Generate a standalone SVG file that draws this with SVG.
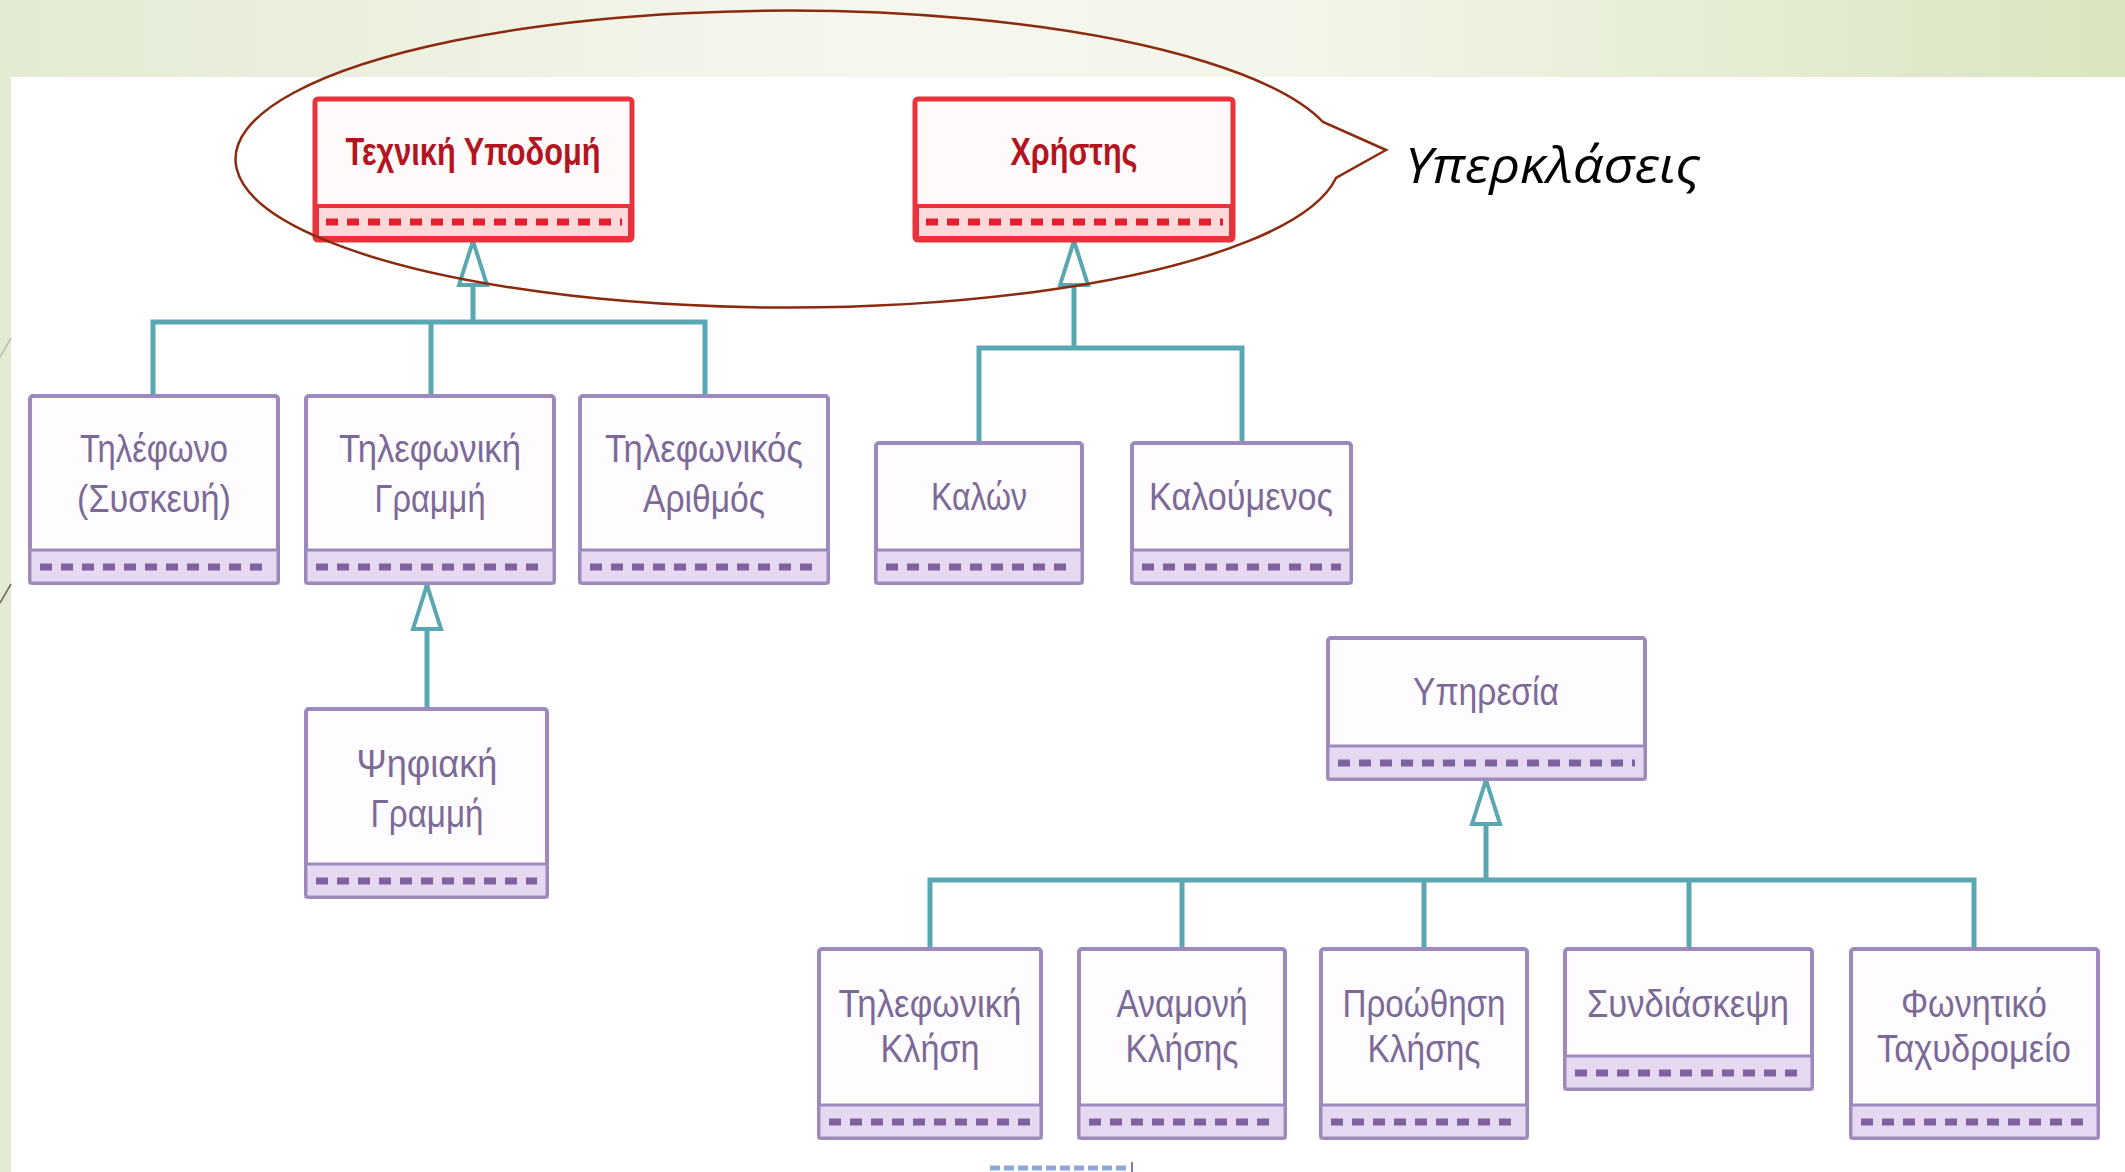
<svg xmlns="http://www.w3.org/2000/svg" width="2125" height="1172" viewBox="0 0 2125 1172">
<defs>
<linearGradient id="band" x1="0" y1="0" x2="1" y2="0">
<stop offset="0" stop-color="#e3ebd3"/>
<stop offset="0.42" stop-color="#f6f7ef"/>
<stop offset="0.6" stop-color="#f3f6ea"/>
<stop offset="1" stop-color="#d9e5c0"/>
</linearGradient>
<marker id="gen" viewBox="0 0 50 34" refX="48" refY="17" markerWidth="50" markerHeight="34" markerUnits="userSpaceOnUse" orient="auto">
<polygon points="3,3 47,17 3,31" fill="#ffffff" stroke="#5aa7b1" stroke-width="4" stroke-linejoin="miter"/>
</marker>
<style>
.box{fill:#fffcff;stroke:#9d89bc;stroke-width:4}
.strip{fill:#e7d8f1;stroke:#9d89bc;stroke-width:3}
.dash{stroke:#7e619f;stroke-width:7;stroke-dasharray:12 9}
.lbl{font-family:"Liberation Sans","Arial",sans-serif;font-size:38px;fill:#7b6a97;text-anchor:middle}
.red .box{fill:#fffafa;stroke:#e8323c;stroke-width:5}
.red .strip{fill:#ffd9d9;stroke:#e8323c;stroke-width:4}
.red .dash{stroke:#e21f2e}
.red .lbl{fill:#b3141f;font-weight:bold}
.conn{fill:none;stroke:#5aa7b1;stroke-width:5}
.callout{fill:none;stroke:#8b2a0e;stroke-width:2.5}
</style>
</defs>
<rect x="0" y="0" width="2125" height="1172" fill="#ffffff"/>
<rect x="0" y="0" width="2125" height="77" fill="url(#band)"/>
<rect x="0" y="77" width="11" height="1095" fill="#e3ebd3"/>
<line x1="0" y1="357" x2="11" y2="338" stroke="#b9bfae" stroke-width="1.5"/>
<line x1="0" y1="603" x2="11" y2="584" stroke="#6e6a55" stroke-width="1.5"/>

<g id="connectors">
<path class="conn" d="M153,396 V322 H705 V396 M431,322 V396"/>
<path class="conn" d="M473,322 V240" marker-end="url(#gen)"/>
<path class="conn" d="M979,443 V348 H1242 V443"/>
<path class="conn" d="M1074,348 V240" marker-end="url(#gen)"/>
<path class="conn" d="M427,709 V584" marker-end="url(#gen)"/>
<path class="conn" d="M930,949 V880 H1974 V949 M1182,880 V949 M1424,880 V949 M1689,880 V949"/>
<path class="conn" d="M1486,880 V779" marker-end="url(#gen)"/>
</g>

<g id="tech" class="red">
<rect class="box" x="315" y="99" width="317" height="141" rx="3"/>
<rect class="strip" x="317" y="206" width="313" height="32"/>
<line class="dash" x1="326" y1="222" x2="622" y2="222"/>
<text class="lbl" x="473" y="165" textLength="255" lengthAdjust="spacingAndGlyphs">Τεχνική Υποδομή</text>
</g>
<g id="user" class="red">
<rect class="box" x="915" y="99" width="318" height="141" rx="3"/>
<rect class="strip" x="917" y="206" width="314" height="32"/>
<line class="dash" x1="926" y1="222" x2="1223" y2="222"/>
<text class="lbl" x="1074" y="165" textLength="127" lengthAdjust="spacingAndGlyphs">Χρήστης</text>
</g>

<g id="phone">
<rect class="box" x="30" y="396" width="248" height="187" rx="3"/>
<rect class="strip" x="30" y="550" width="248" height="33"/>
<line class="dash" x1="40" y1="567" x2="268" y2="567"/>
<text class="lbl" x="154" y="462" textLength="148" lengthAdjust="spacingAndGlyphs">Τηλέφωνο</text>
<text class="lbl" x="154" y="512" textLength="154" lengthAdjust="spacingAndGlyphs">(Συσκευή)</text>
</g>
<g id="line">
<rect class="box" x="306" y="396" width="248" height="187" rx="3"/>
<rect class="strip" x="306" y="550" width="248" height="33"/>
<line class="dash" x1="316" y1="567" x2="544" y2="567"/>
<text class="lbl" x="430" y="462" textLength="182" lengthAdjust="spacingAndGlyphs">Τηλεφωνική</text>
<text class="lbl" x="430" y="512" textLength="111" lengthAdjust="spacingAndGlyphs">Γραμμή</text>
</g>
<g id="number">
<rect class="box" x="580" y="396" width="248" height="187" rx="3"/>
<rect class="strip" x="580" y="550" width="248" height="33"/>
<line class="dash" x1="590" y1="567" x2="818" y2="567"/>
<text class="lbl" x="704" y="462" textLength="198" lengthAdjust="spacingAndGlyphs">Τηλεφωνικός</text>
<text class="lbl" x="704" y="512" textLength="122" lengthAdjust="spacingAndGlyphs">Αριθμός</text>
</g>
<g id="caller">
<rect class="box" x="876" y="443" width="206" height="140" rx="3"/>
<rect class="strip" x="876" y="550" width="206" height="33"/>
<line class="dash" x1="886" y1="567" x2="1072" y2="567"/>
<text class="lbl" x="979" y="510" textLength="96" lengthAdjust="spacingAndGlyphs">Καλών</text>
</g>
<g id="callee">
<rect class="box" x="1132" y="443" width="219" height="140" rx="3"/>
<rect class="strip" x="1132" y="550" width="219" height="33"/>
<line class="dash" x1="1142" y1="567" x2="1341" y2="567"/>
<text class="lbl" x="1241" y="510" textLength="184" lengthAdjust="spacingAndGlyphs">Καλούμενος</text>
</g>
<g id="digital">
<rect class="box" x="306" y="709" width="241" height="188" rx="3"/>
<rect class="strip" x="306" y="864" width="241" height="33"/>
<line class="dash" x1="316" y1="881" x2="537" y2="881"/>
<text class="lbl" x="427" y="777" textLength="141" lengthAdjust="spacingAndGlyphs">Ψηφιακή</text>
<text class="lbl" x="427" y="827" textLength="113" lengthAdjust="spacingAndGlyphs">Γραμμή</text>
</g>
<g id="service">
<rect class="box" x="1328" y="638" width="317" height="141" rx="3"/>
<rect class="strip" x="1328" y="746" width="317" height="33"/>
<line class="dash" x1="1338" y1="763" x2="1635" y2="763"/>
<text class="lbl" x="1486" y="705" textLength="146" lengthAdjust="spacingAndGlyphs">Υπηρεσία</text>
</g>
<g id="call">
<rect class="box" x="819" y="949" width="222" height="189" rx="3"/>
<rect class="strip" x="819" y="1105" width="222" height="33"/>
<line class="dash" x1="829" y1="1122" x2="1031" y2="1122"/>
<text class="lbl" x="930" y="1017" textLength="183" lengthAdjust="spacingAndGlyphs">Τηλεφωνική</text>
<text class="lbl" x="930" y="1062" textLength="99" lengthAdjust="spacingAndGlyphs">Κλήση</text>
</g>
<g id="wait">
<rect class="box" x="1079" y="949" width="206" height="189" rx="3"/>
<rect class="strip" x="1079" y="1105" width="206" height="33"/>
<line class="dash" x1="1089" y1="1122" x2="1275" y2="1122"/>
<text class="lbl" x="1182" y="1017" textLength="131" lengthAdjust="spacingAndGlyphs">Αναμονή</text>
<text class="lbl" x="1182" y="1062" textLength="113" lengthAdjust="spacingAndGlyphs">Κλήσης</text>
</g>
<g id="forward">
<rect class="box" x="1321" y="949" width="206" height="189" rx="3"/>
<rect class="strip" x="1321" y="1105" width="206" height="33"/>
<line class="dash" x1="1331" y1="1122" x2="1517" y2="1122"/>
<text class="lbl" x="1424" y="1017" textLength="163" lengthAdjust="spacingAndGlyphs">Προώθηση</text>
<text class="lbl" x="1424" y="1062" textLength="113" lengthAdjust="spacingAndGlyphs">Κλήσης</text>
</g>
<g id="conference">
<rect class="box" x="1565" y="949" width="247" height="140" rx="3"/>
<rect class="strip" x="1565" y="1056" width="247" height="33"/>
<line class="dash" x1="1575" y1="1073" x2="1802" y2="1073"/>
<text class="lbl" x="1688" y="1017" textLength="202" lengthAdjust="spacingAndGlyphs">Συνδιάσκεψη</text>
</g>
<g id="voicemail">
<rect class="box" x="1851" y="949" width="247" height="189" rx="3"/>
<rect class="strip" x="1851" y="1105" width="247" height="33"/>
<line class="dash" x1="1861" y1="1122" x2="2088" y2="1122"/>
<text class="lbl" x="1974" y="1017" textLength="146" lengthAdjust="spacingAndGlyphs">Φωνητικό</text>
<text class="lbl" x="1974" y="1062" textLength="194" lengthAdjust="spacingAndGlyphs">Ταχυδρομείο</text>
</g>

<g id="partial">
<line x1="990" y1="1168" x2="1128" y2="1168" stroke="#8fa6d8" stroke-width="5" stroke-dasharray="10 4"/>
<line x1="1132" y1="1162" x2="1132" y2="1172" stroke="#7a7fa8" stroke-width="2"/>
</g>

<g id="superclasses">
<path class="callout" d="M1323,122 A552.5,148.5 0 1 0 1336,178 L1386,150 Z"/>
<text x="1405" y="183" font-family="'Open Sans','Noto Sans','DejaVu Sans',sans-serif" font-style="italic" font-size="50" textLength="295" lengthAdjust="spacingAndGlyphs" fill="#000000">Υπερκλάσεις</text>
</g>
</svg>
